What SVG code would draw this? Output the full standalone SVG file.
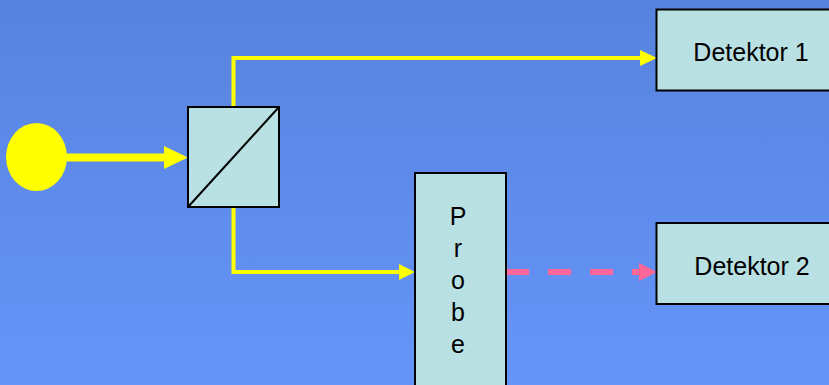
<svg xmlns="http://www.w3.org/2000/svg" width="829" height="385" viewBox="0 0 829 385">
<defs>
<linearGradient id="bg" x1="0" y1="0" x2="0" y2="1">
<stop offset="0" stop-color="#5783DE"/>
<stop offset="1" stop-color="#6695F9"/>
</linearGradient>
</defs>
<style>
.box{fill:#B9E0E2;stroke:#000;stroke-width:2}
.lbl{font-family:"Liberation Sans",Arial,sans-serif;font-size:25px;fill:#000;text-anchor:middle}
.y{fill:none;stroke:#FFFF00;stroke-width:4}
.yh{fill:#FFFF00}
</style>
<rect x="0" y="0" width="829" height="385" fill="url(#bg)"/>
<g id="connectors">
<line x1="66" y1="157.5" x2="166" y2="157.5" stroke="#FFFF00" stroke-width="8"/>
<polygon class="yh" points="164,146 188,157.5 164,169"/>
<polyline class="y" points="233.5,107 233.5,58 642,58"/>
<polygon class="yh" points="640,50 657,58 640,66"/>
<polyline class="y" points="233.5,207 233.5,272 401,272"/>
<polygon class="yh" points="399,264 415,272 399,280"/>
<line x1="506" y1="272" x2="640" y2="272" stroke="#FF6699" stroke-width="6" stroke-dasharray="23 19"/>
<polygon fill="#FF6699" points="639,263 657,272 639,281"/>
</g>
<g id="source">
<ellipse cx="36.5" cy="157" rx="30.5" ry="34" fill="#FFFF00"/>
</g>
<g id="splitter">
<rect class="box" x="188" y="107" width="91" height="100"/>
<line x1="188" y1="207" x2="279" y2="107" stroke="#000" stroke-width="2"/>
</g>
<g id="probe">
<rect class="box" x="415" y="173" width="91" height="230"/>
<text class="lbl" x="458" y="225">P</text>
<text class="lbl" x="458" y="257">r</text>
<text class="lbl" x="458" y="289">o</text>
<text class="lbl" x="458" y="321">b</text>
<text class="lbl" x="458" y="353">e</text>
</g>
<g id="detektor1">
<rect class="box" x="656.5" y="9.5" width="200" height="81"/>
<text class="lbl" x="751" y="61">Detektor 1</text>
</g>
<g id="detektor2">
<rect class="box" x="656.5" y="223" width="200" height="81"/>
<text class="lbl" x="752" y="275">Detektor 2</text>
</g>
</svg>
